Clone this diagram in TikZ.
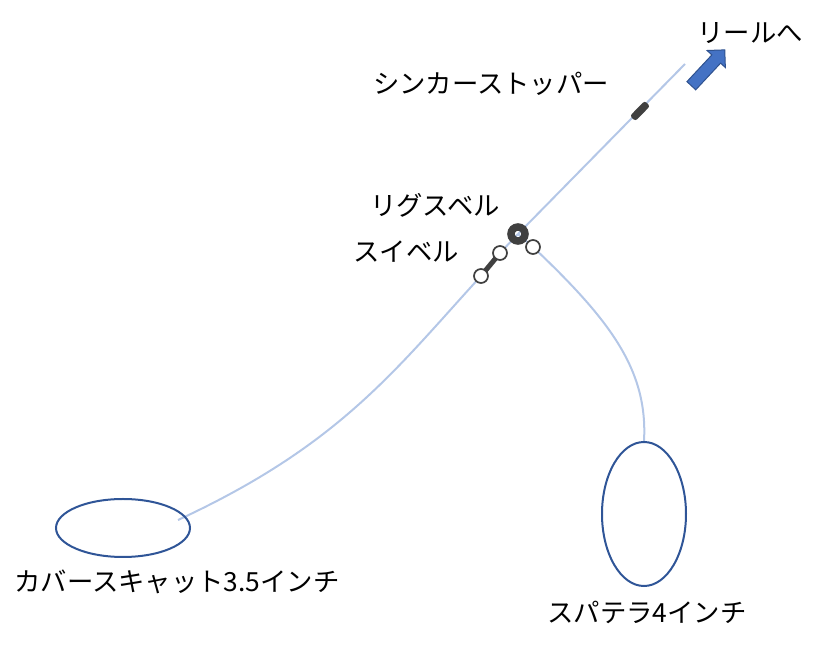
\documentclass[tikz,border=0pt]{standalone}
\usepackage{fontspec}
\setmainfont{Noto Sans CJK JP}
\usetikzlibrary{shapes.geometric,shapes.arrows,backgrounds}
\definecolor{linecol}{HTML}{B4C7E7}
\definecolor{baitcol}{HTML}{2F5597}
\definecolor{metalcol}{HTML}{404040}
\definecolor{arrowcol}{HTML}{4472C4}
\definecolor{arrowedge}{HTML}{2F528F}

\begin{document}
\begin{tikzpicture}[x=0.2mm,y=-0.2mm,
	caption/.style={font=\fontsize{15}{17}\selectfont, inner sep=0pt, text=black},
	fishline/.style={draw=linecol, line width=0.4mm},
	bait/.style={ellipse, draw=baitcol, line width=0.4mm, inner sep=0pt},
	swivel/.style={circle, draw=metalcol, fill=white, line width=0.35mm, minimum size=2.8mm, inner sep=0pt},
	rigring/.style={circle, draw=metalcol, line width=1.5mm, minimum size=2.8mm, inner sep=0pt},
	stopperbox/.style={rectangle, fill=metalcol, rounded corners=0.5mm, minimum width=4.2mm, minimum height=1.5mm, inner sep=0pt, rotate=45.5},
	reelarrow/.style={single arrow, fill=arrowcol, draw=arrowedge, line width=0.2mm, minimum height=9.8mm, inner sep=1.1mm, single arrow head extend=1.3mm, rotate=47}
	]
	\useasboundingbox (0,0) rectangle (813,668);
	\coordinate (linetop) at (685,64);
	\coordinate (tail) at (178,520);
	\node[rigring] (ring) at (518,234) {};
	\node[swivel] (sw1) at (533,247) {};
	\node[swivel] (sw2) at (500,253) {};
	\node[swivel] (sw3) at (481,276) {};
	\node[stopperbox] (stopper) at (640,111) {};
	\node[reelarrow] (reel) at (706,70) {};
	\node[bait, minimum width=26.8mm, minimum height=11.6mm] (cover) at (123,528) {};
	\node[bait, minimum width=16.8mm, minimum height=28.8mm] (spatera) at (644,514) {};
	\node[caption] (reeltext) at (750,33) {リールへ};
	\node[caption] (stoppertext) at (491,84) {シンカーストッパー};
	\node[caption] (ringtext) at (435,205) {リグスベル};
	\node[caption] (swiveltext) at (406,252) {スイベル};
	\node[caption] (covertext) at (177,582) {カバースキャット3.5インチ};
	\node[caption] (spateratext) at (647,612) {スパテラ4インチ};
	\begin{scope}[on background layer]
		\draw[fishline] (linetop) -- (ring.center);
		\draw[fishline] (ring.center) -- (sw1.center);
		\draw[fishline] (ring.center) -- (sw2.center);
		\draw[draw=metalcol, line width=1mm] (sw2.center) -- (sw3.center);
		\draw[fishline] (sw3.center) .. controls (395,370) and (340,445) .. (tail);
		\draw[fishline] (sw1.center) .. controls (610,320) and (648,370) .. (spatera.north);
	\end{scope}
\end{tikzpicture}
\end{document}
